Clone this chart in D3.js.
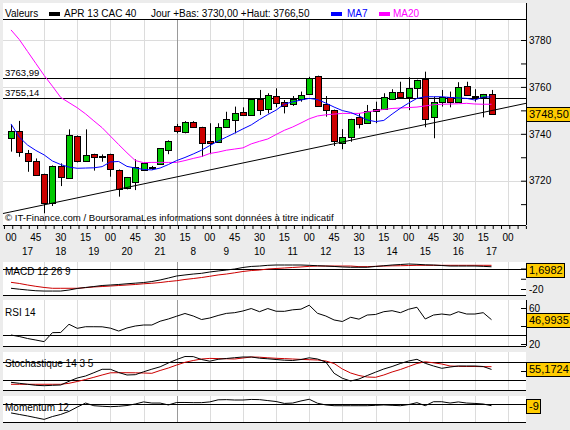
<!DOCTYPE html>
<html>
<head>
<meta charset="utf-8">
<script src="https://cdn.jsdelivr.net/npm/d3@7/dist/d3.min.js"></script>
<style>
body { margin: 0; background: #ececec; }
</style>
</head>
<body>
<div id="chart"></div>
<script>
// time axis
var minuteLabels = ["00","45","30","15","00","45","30","15","00","45","30","15","00","45","30","15","00","45","30","15","00"];
var hourLabels = ["17","18","19","20","21","8","9","10","11","12","13","14","15","16","17"];

// 15 min candles, APR 13 CAC 40
var openValues = [3738.1,3741.2,3731.7,3728.4,3722.7,3710.4,3726.3,3721.0,3739.1,3728.5,
	3731.3,3730.6,3731.3,3724.6,3716.8,3719.3,3724.6,3725.6,3727.1,3733.1,
	3743.3,3740.9,3745.2,3742.8,3736.9,3736.4,3743.0,3745.9,3749.2,3748.0,
	3754.8,3750.4,3756.2,3753.4,3752.6,3754.7,3756.8,3764.6,3752.7,3750.1,
	3736.2,3738.5,3747.3,3744.5,3750.6,3750.4,3754.7,3757.7,3755.6,3759.4,
	3763.2,3747.0,3753.7,3755.6,3753.7,3760.4,3756.1,3755.6,3756.8];
var highValues = [3743.8,3745.5,3733.1,3729.5,3723.0,3726.5,3727.4,3741.9,3739.3,3741.9,
	3731.5,3731.2,3731.5,3724.8,3721.6,3729.1,3727.8,3726.3,3733.8,3737.2,
	3744.2,3745.4,3745.4,3743.0,3744.5,3744.5,3749.4,3751.6,3751.3,3754.9,
	3758.7,3757.3,3759.4,3754.4,3756.1,3758.0,3764.3,3764.8,3756.1,3750.3,
	3742.0,3746.4,3748.7,3752.3,3753.7,3757.3,3759.0,3762.2,3764.1,3763.1,
	3766.5,3755.8,3758.7,3758.0,3762.0,3762.2,3759.0,3757.0,3758.7];
var lowValues = [3732.4,3730.2,3723.8,3722.0,3706.1,3709.2,3717.7,3721.0,3727.8,3728.5,
	3724.3,3728.1,3721.7,3713.2,3716.3,3716.0,3724.3,3724.6,3727.1,3731.3,
	3740.2,3740.2,3742.6,3730.2,3731.3,3736.2,3742.8,3740.2,3747.8,3747.8,
	3748.0,3748.7,3751.3,3748.7,3751.9,3753.7,3756.6,3751.9,3747.3,3734.8,
	3733.4,3736.6,3742.3,3744.3,3744.5,3750.2,3754.4,3755.6,3750.1,3755.1,
	3742.8,3738.1,3751.6,3751.3,3753.5,3756.1,3753.7,3747.0,3748.2];
var closeValues = [3741.2,3732.4,3728.5,3722.4,3710.4,3726.3,3721.4,3739.5,3728.4,3731.0,
	3730.0,3730.3,3724.9,3716.3,3721.4,3725.7,3727.4,3726.0,3733.8,3737.1,
	3741.3,3745.2,3742.8,3735.9,3735.9,3742.8,3746.2,3748.7,3748.0,3754.7,
	3750.1,3756.5,3753.3,3751.9,3754.7,3756.5,3763.7,3751.9,3750.1,3736.9,
	3738.5,3746.2,3744.2,3749.9,3749.9,3755.6,3757.7,3755.8,3759.4,3762.9,
	3746.2,3753.4,3755.8,3753.7,3759.8,3756.5,3755.6,3756.8,3748.5];

var ma7Values = [3744.2,3738.6,3735.2,3732.9,3731.0,3728.4,3726.9,3725.8,3725.3,3725.4,
	3725.5,3726.0,3728.0,3728.2,3726.1,3725.4,3724.8,3724.6,3725.4,3726.9,
	3728.6,3729.9,3731.4,3733.0,3735.0,3736.9,3738.6,3740.3,3742.1,3743.8,
	3746.1,3748.2,3750.1,3752.7,3753.6,3754.4,3755.1,3754.6,3753.1,3751.4,
	3749.9,3749.1,3747.6,3745.9,3745.2,3745.7,3748.4,3750.9,3753.1,3755.1,
	3755.8,3755.8,3755.8,3755.5,3755.3,3755.1,3754.4,3755.7,3755.7];
var ma20Values = [3784.3,3780.2,3775.1,3770.0,3764.9,3760.3,3755.5,3753.3,3751.1,3748.5,
	3745.5,3742.6,3739.0,3735.4,3731.9,3728.6,3727.7,3727.8,3727.8,3727.8,
	3727.8,3728.6,3729.5,3730.3,3731.6,3732.2,3733.0,3733.5,3734.0,3735.7,
	3736.8,3737.8,3739.7,3741.5,3742.9,3744.6,3746.4,3747.6,3748.1,3748.4,
	3748.7,3748.7,3748.7,3749.3,3749.9,3750.4,3750.8,3751.0,3751.2,3751.4,
	3751.9,3752.4,3752.6,3752.7,3752.8,3753.0,3752.7,3752.6,3752.6];

var levelValues = [3763.99, 3755.14];
var levelLabels = ["3763,99", "3755,14"];
var trendIndex = [-0.97, 62.17];
var trendPrice = [3706.0, 3753.0];
var priceTicks = [3710, 3720, 3730, 3740, 3750, 3760, 3770, 3780];
var priceLabelled = [3720, 3740, 3760, 3780];

var macdValues = [-19.3,-20.2,-21,-21.7,-22,-22,-22,-21,-19.5,-18.5,
	-17.6,-16.6,-16.1,-15.6,-14.9,-14.3,-13.7,-12.7,-11.2,-9.3,
	-7.3,-6.3,-5.4,-4.7,-3.4,-2.4,-1.5,-0.5,1,2,
	2.4,3.1,3.4,3.4,3.4,3.4,3.1,2.7,2.4,2,
	1.5,1.2,1.2,1.2,2,2.7,3.4,3.9,4.4,4.1,
	3.6,3.4,2.9,2.4,2.4,2.4,2.4,2.1,1.7];
var macdSignal = [-13.5,-14.6,-16.1,-17.4,-18.5,-19.3,-19.3,-19.3,-19.3,-18.7,
	-18,-17.6,-17.1,-16.6,-16.1,-15.6,-14.9,-14.4,-13.7,-12.7,
	-11.9,-10.7,-9.8,-8.8,-7.6,-6.3,-5.4,-4.2,-2.9,-2,
	-1.5,-0.5,0,0.5,1,1.5,2.1,2.4,2.4,2.4,
	2.4,2.4,1.8,1.8,2.1,2.4,2.6,2.7,2.9,3.1,
	3.1,3.1,3.1,3.1,3.1,3.1,3.1,3.1,3.1];
var rsiValues = [30,28.3,26.1,24.4,22.6,32.6,32.8,41.9,37.4,39.2,
	39.2,39.1,37.6,34.4,37.8,40,41.1,41.1,45.3,47.8,
	50.9,53.9,51.1,47.2,48.9,51.7,54,54.8,56.7,59.4,
	55.9,59.4,56.4,56.3,58,58.7,63.1,54.1,51.1,46.7,
	45,49.7,47.6,52.2,52.8,55.9,57,54.8,58.6,60.8,
	47.8,52.2,53.3,52.2,55.9,53.3,53.3,54.8,47];
var stochK = [12.3,9,5.7,2.3,1,2.3,3.3,15.7,26.7,33.3,
	44.3,55.7,55.7,45,36.7,37.7,47.3,56,64,76.7,
	88.3,98.3,98,88.3,82.7,89,91.7,94.3,96.7,96.7,
	92.7,90.7,88.3,86,85,88.3,94,90,80,42.3,
	25.7,16.7,23.3,35,46,56.7,65,75,83.3,89,
	75.7,66.7,59,63.3,66.7,66.7,66.7,65,55.2];
var stochD = [5.7,5.7,5.7,5.7,5.7,5.7,5.7,9,15,21.7,
	29,36.7,44,44.3,44.3,44,43.3,42.3,51.7,60,
	70,79,85,90,92,91.3,90.7,90,93.3,96.7,
	96,94,92.3,91.3,90,88.7,87.7,86.7,83.3,75,
	56.7,43.3,35,30,29,36.7,46.7,55,65,75,
	80.7,77.3,73.3,66.7,65.5,65,65,64.5,64.5];
var momentumValues = [-47,-55,-63,-72,-81,-66,-55,-39,-16,5,
	-9,-12,-14,-12,-8,0,11,5,5,-5,
	8,8,7,7,11,22,23,21,21,24,
	23,18,13,3,5,16,25,4,-5,-9,
	-9,-9,-9,-9,-7,-5,-7,-9,-3,7,
	-9,12,12,5,11,5,3,0,-9];

var lastLabels = {price: "3748,50", macd: "1,6982", rsi: "46,9935", stoch: "55,1724", mom: "-9"};

var svgContainer,
	font = '"Liberation Sans", Arial, Helvetica, sans-serif',
	left = 3,
	right = 526,
	green = "#00c800",
	red = "#cc0000",
	gridColor = "#dcdcdc";

var x = d3.scaleLinear().domain([0, 58]).range([11, 491.5]);
var yMain = d3.scaleLinear().domain([3720, 3780]).range([180.7, 40]);
var yMacd = d3.scaleLinear().domain([-20, 0]).range([289, 268.5]);
var yRsi = d3.scaleLinear().domain([20, 60]).range([344, 308]);
var yStoch = d3.scaleLinear().domain([0, 100]).range([386, 356]);
var yMom = d3.scaleLinear().domain([-100, 0]).range([423, 404]);

function onLoad() {
	svgContainer = d3.select("#chart")
	.append("svg")
	.attr("width", 570)
	.attr("height", 430)
	.style("display", "block");

	svgContainer.append("rect").attr("width", 570).attr("height", 430).attr("fill", "#ececec");

	drawMainPanel();
	drawTimeAxis();

	// MACD
	drawPanelFrame(262, 295);
	hLine(yMacd(0), "#000");
	drawRightAxis(yMacd, [0, -10, -20], [-20]);
	drawSeries(macdSignal, yMacd, red);
	drawSeries(macdValues, yMacd, "#000");
	drawPanelLabel("MACD 12 26 9", 274.5);
	drawValueBox(yMacd(macdValues[macdValues.length - 1]), lastLabels.macd, 263);

	// RSI
	drawPanelFrame(300, 346);
	hLine(yRsi(30), "#000");
	drawRightAxis(yRsi, [60, 40, 20], [60, 20]);
	svgContainer.append("line").attr("x1", right + 0.5).attr("x2", right + 0.5)
	.attr("y1", 300).attr("y2", 346).attr("stroke", "#000");
	drawSeries(rsiValues, yRsi, "#000");
	drawPanelLabel("RSI 14", 315.5);
	drawValueBox(yRsi(rsiValues[rsiValues.length - 1]), lastLabels.rsi, 301);

	// Stochastique
	drawPanelFrame(352, 390);
	hLine(yStoch(80), "#000");
	hLine(yStoch(20), "#000");
	drawRightAxis(yStoch, [50], []);
	drawSeries(stochD, yStoch, red);
	drawSeries(stochK, yStoch, "#000");
	drawPanelLabel("Stochastique 14 3 5", 366.5);
	drawValueBox(yStoch(stochK[stochK.length - 1]), lastLabels.stoch, 353);

	// Momentum
	drawPanelFrame(396, 422);
	hLine(yMom(0), "#000");
	drawSeries(momentumValues, yMom, "#000");
	drawPanelLabel("Momentum 12", 410.5);
	drawValueBox(yMom(momentumValues[momentumValues.length - 1]), lastLabels.mom, 397);
}

function hLine(y, color) {
	svgContainer.append("line")
	.attr("x1", left).attr("x2", right)
	.attr("y1", Math.round(y) + 0.5).attr("y2", Math.round(y) + 0.5)
	.attr("stroke", color);
}

function drawVerticalGrid(top, bottom) {
	for (var k = 1; k <= 15; k++) {
		var xp = Math.round(x(k * 4)) + 0.5;
		svgContainer.append("line")
		.attr("x1", xp).attr("x2", xp)
		.attr("y1", top).attr("y2", bottom)
		.attr("stroke", k === 5 ? "#9a9a9a" : gridColor);
	}
}

function drawPanelFrame(top, bottom) {
	svgContainer.append("rect")
	.attr("x", left).attr("y", top)
	.attr("width", right - left).attr("height", bottom - top)
	.attr("fill", "#fff");
	drawVerticalGrid(top, bottom);
	hLine(bottom, "#000");
}

function drawRightAxis(scale, values, labelled) {
	var axis = d3.axisRight(scale)
	.tickValues(values)
	.tickSizeInner(-5)
	.tickSizeOuter(0)
	.tickPadding(3)
	.tickFormat(d => labelled.indexOf(d) >= 0 ? String(d) : "");

	var g = svgContainer.append("g")
	.attr("transform", "translate(" + right + ",0)")
	.call(axis);
	g.select(".domain").remove();
	g.selectAll("text").attr("font-family", font).attr("font-size", 10).attr("fill", "#000");
	g.selectAll("line").attr("stroke", "#000");
	return g;
}

function drawSeries(values, yScale, color) {
	var line = d3.line()
	.x((d, i) => x(i))
	.y(d => yScale(d));
	svgContainer.append("path")
	.datum(values)
	.attr("d", line)
	.attr("fill", "none")
	.attr("stroke", color)
	.attr("stroke-width", 1);
}

function drawPanelLabel(label, baseline) {
	svgContainer.append("text")
	.attr("x", 5).attr("y", baseline)
	.attr("font-family", font).attr("font-size", 10)
	.text(label);
}

function drawValueBox(yPos, label, minTop) {
	var top = Math.max(minTop, Math.round(yPos) - 7);
	var rect = svgContainer.append("rect");
	var txt = svgContainer.append("text")
	.attr("x", right + 3).attr("y", top + 11)
	.attr("font-family", font).attr("font-size", 11)
	.attr("fill", "#000")
	.text(label);
	var w = Math.ceil(txt.node().getComputedTextLength()) + 4;
	rect.attr("x", right + 0.5).attr("y", top + 0.5)
	.attr("width", w).attr("height", 14)
	.attr("fill", "#ffcc00").attr("stroke", "#000");
}

function drawMainPanel() {
	svgContainer.append("rect")
	.attr("x", left).attr("y", 3)
	.attr("width", right - left).attr("height", 222)
	.attr("fill", "#fff");

	// horizontal grid
	priceLabelled.forEach(p => {
		var yp = Math.round(yMain(p)) + 0.5;
		svgContainer.append("line")
		.attr("x1", left).attr("x2", right)
		.attr("y1", yp).attr("y2", yp)
		.attr("stroke", gridColor);
	});
	drawVerticalGrid(20, 225);

	// header
	hLine(19, "#000");
	drawHeader();

	// support / resistance levels
	levelValues.forEach((v, k) => {
		hLine(yMain(v), "#000");
		svgContainer.append("text")
		.attr("x", 5).attr("y", Math.round(yMain(v)) - 2)
		.attr("font-family", font).attr("font-size", 9.5)
		.text(levelLabels[k]);
	});

	drawCandles();

	// trend line
	svgContainer.append("line")
	.attr("x1", x(trendIndex[0])).attr("y1", yMain(trendPrice[0]))
	.attr("x2", x(trendIndex[1])).attr("y2", yMain(trendPrice[1]))
	.attr("stroke", "#000");

	drawSeries(ma20Values, yMain, "#ff00ff");
	drawSeries(ma7Values, yMain, "#0000ff");

	svgContainer.append("text")
	.attr("x", 5).attr("y", 221)
	.attr("font-family", font).attr("font-size", 9.6)
	.text("\u00a9 IT-Finance.com / BoursoramaLes informations sont donn\u00e9es \u00e0 titre indicatif");

	// right price axis
	svgContainer.append("line")
	.attr("x1", right + 0.5).attr("x2", right + 0.5)
	.attr("y1", 3).attr("y2", 225)
	.attr("stroke", "#000");
	drawRightAxis(yMain, priceTicks, priceLabelled);

	drawValueBox(yMain(closeValues[closeValues.length - 1]), lastLabels.price, 20);
}

function drawHeader() {
	var items = [
		{t: "Valeurs", x: 5, c: "#000"},
		{t: "APR 13 CAC 40", x: 64, c: "#000"},
		{t: "Jour +Bas: 3730,00 +Haut: 3766,50", x: 151, c: "#000"},
		{t: "MA7", x: 347, c: "#0000ff"},
		{t: "MA20", x: 393, c: "#ff00ff"}
	];
	items.forEach(it => {
		svgContainer.append("text")
		.attr("x", it.x).attr("y", 17)
		.attr("font-family", font).attr("font-size", 10)
		.attr("fill", it.c)
		.text(it.t);
	});
	var swatches = [{x: 49, c: "#000"}, {x: 331, c: "#0000ff"}, {x: 379, c: "#ff00ff"}];
	swatches.forEach(s => {
		svgContainer.append("rect")
		.attr("x", s.x).attr("y", 12)
		.attr("width", 11).attr("height", 4)
		.attr("fill", s.c);
	});
}

function drawCandles() {
	var g = svgContainer.append("g");
	for (var i = 0; i < closeValues.length; i++) {
		var o = openValues[i], c = closeValues[i];
		var cx = Math.round(x(i)) + 0.5;
		g.append("line")
		.attr("x1", cx).attr("x2", cx)
		.attr("y1", yMain(highValues[i])).attr("y2", yMain(lowValues[i]))
		.attr("stroke", "#000");
		var top = Math.round(yMain(Math.max(o, c))) + 0.5;
		var bot = Math.round(yMain(Math.min(o, c))) + 0.5;
		g.append("rect")
		.attr("x", cx - 3).attr("y", top)
		.attr("width", 6).attr("height", Math.max(bot - top, 1))
		.attr("fill", c >= o ? green : red)
		.attr("stroke", "#000");
	}
}

function drawTimeAxis() {
	hLine(225, "#000");
	var tickIdx = d3.range(-0.85, 62.3, 1);
	var axis = d3.axisBottom(x)
	.tickValues(tickIdx)
	.tickSizeInner(3)
	.tickSizeOuter(0)
	.tickFormat("");
	var g = svgContainer.append("g")
	.attr("transform", "translate(0,226)")
	.call(axis);
	g.select(".domain").remove();

	minuteLabels.forEach((m, k) => {
		svgContainer.append("text")
		.attr("x", x(k * 3)).attr("y", 240.5)
		.attr("text-anchor", "middle")
		.attr("font-family", font).attr("font-size", 10)
		.text(m);
	});
	hourLabels.forEach((h, k) => {
		svgContainer.append("text")
		.attr("x", x(k * 4 + 2)).attr("y", 255)
		.attr("text-anchor", "middle")
		.attr("font-family", font).attr("font-size", 10)
		.text(h);
	});
}

onLoad();
</script>
</body>
</html>
